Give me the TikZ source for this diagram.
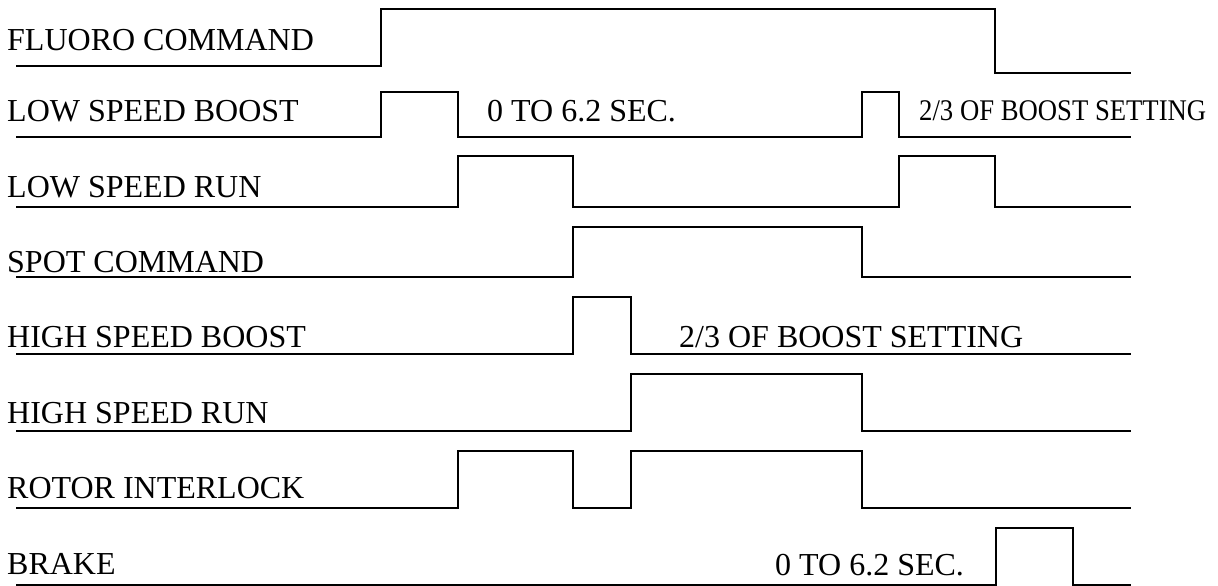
\documentclass[tikz,border=0pt]{standalone}
\usepackage{fontspec}
\setmainfont{Liberation Serif}
\newcommand{\tdBig}{\fontsize{32}{38}\selectfont}
\newcommand{\tdSmall}{\fontsize{30}{36}\selectfont}

\begin{document}
\begin{tikzpicture}[x=1pt,y=-1pt,
  wave/.style={line width=1.4pt, line join=miter},
  sig/.style={font=\tdBig, anchor=base west, inner sep=0pt},
  note/.style={font=\tdBig, anchor=base west, inner sep=0pt}]
\useasboundingbox (0,0) rectangle (1218,586);
% signal names
\node[sig] (fluoro) at (7,51) {FLUORO COMMAND};
\node[sig] (lsboost) at (7,121) {LOW SPEED BOOST};
\node[sig] (lsrun) at (7,197) {LOW SPEED RUN};
\node[sig] (spot) at (7,272) {SPOT COMMAND};
\node[sig] (hsboost) at (7,347) {HIGH SPEED BOOST};
\node[sig] (hsrun) at (7,423) {HIGH SPEED RUN};
\node[sig] (rotor) at (7,498) {ROTOR INTERLOCK};
\node[sig] (brake) at (7,574) {BRAKE};
% waveforms
\draw[wave] (16,66) -- (381,66) -- (381,9) -- (995,9) -- (995,73) -- (1131,73);
\draw[wave] (16,137) -- (381,137) -- (381,92) -- (458,92) -- (458,137) -- (862,137) -- (862,92) -- (899,92) -- (899,137) -- (1131,137);
\draw[wave] (16,207) -- (458,207) -- (458,156) -- (573,156) -- (573,207) -- (899,207) -- (899,156) -- (995,156) -- (995,207) -- (1131,207);
\draw[wave] (16,277) -- (573,277) -- (573,227) -- (862,227) -- (862,277) -- (1131,277);
\draw[wave] (16,354) -- (573,354) -- (573,297) -- (631,297) -- (631,354) -- (1131,354);
\draw[wave] (16,431) -- (631,431) -- (631,374) -- (862,374) -- (862,431) -- (1131,431);
\draw[wave] (16,508) -- (458,508) -- (458,451) -- (573,451) -- (573,508) -- (631,508) -- (631,451) -- (862,451) -- (862,508) -- (1131,508);
\draw[wave] (16,585) -- (996,585) -- (996,528) -- (1073,528) -- (1073,585) -- (1131,585);
% timing notes
\node[note] (lsbtime) at (487,121) {0 TO 6.2 SEC.};
\node[note, font=\tdSmall] (lsbset) at (919,120) {\scalebox{0.89}[1]{2/3 OF BOOST SETTING}};
\node[note] (hsbset) at (679,347) {2/3 OF BOOST SETTING};
\node[note] (braketime) at (775,575) {0 TO 6.2 SEC.};
\end{tikzpicture}
\end{document}
